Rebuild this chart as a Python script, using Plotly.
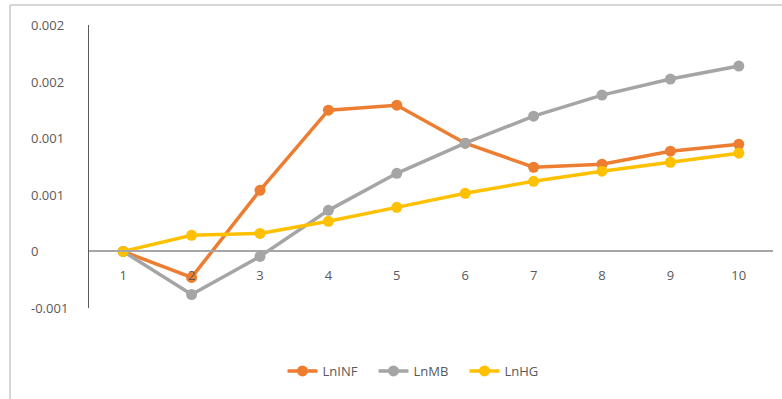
import plotly.graph_objects as go

categories = [1, 2, 3, 4, 5, 6, 7, 8, 9, 10]
ln_inf = [0, -0.000276, 0.000648, 0.001497, 0.00155, 0.001147, 0.000892, 0.000924, 0.001062, 0.001136]
ln_mb = [0, -0.000457, -0.000053, 0.000435, 0.000828, 0.001147, 0.001434, 0.001657, 0.001827, 0.001965]
ln_hg = [0, 0.00017, 0.000191, 0.000319, 0.000467, 0.000616, 0.000743, 0.00085, 0.000945, 0.001041]
y_tickvals = [-0.0006, 0, 0.0006, 0.0012, 0.0018, 0.0024]
y_ticktext = ["-0.001", "0", "0.001", "0.001", "0.002", "0.002"]

series = [("LnINF", ln_inf, "#ED7D31"), ("LnMB", ln_mb, "#A5A5A5"), ("LnHG", ln_hg, "#FFC000")]

W, H = 782, 399
L, R, T, B = 89, 9, 25, 91
PW, PH = W - L - R, H - T - B
ymin, ymax = -0.0006, 0.0024

fig = go.Figure()
for name, vals, color in series:
    fig.add_trace(go.Scatter(
        x=categories, y=vals, name=name, mode="lines+markers",
        line=dict(color=color, width=3.5),
        marker=dict(color=color, size=11),
    ))

font = dict(family="'Open Sans', Arial, sans-serif", size=13, color="#595959")

annotations = []
for v, t in zip(y_tickvals, y_ticktext):
    annotations.append(dict(
        xref="paper", yref="y", x=(29 - L) / PW, y=v, text=t,
        showarrow=False, xanchor="left", yanchor="middle", font=font,
    ))

zero_pos = (0 - ymin) / (ymax - ymin)

fig.update_layout(
    width=W, height=H,
    margin=dict(l=L, r=R, t=T, b=B, pad=0),
    paper_bgcolor="white", plot_bgcolor="white",
    font=font,
    showlegend=True,
    legend=dict(orientation="h", x=(0.5 * PW - 12) / PW,
                xanchor="center", y=(H - B - 371) / PH, yanchor="middle",
                font=font, itemwidth=30, entrywidth=46, entrywidthmode="pixels",
                tracegroupgap=0, bgcolor="rgba(0,0,0,0)"),
    xaxis=dict(
        range=[0.5, 10.5], tickvals=categories, ticktext=[str(c) for c in categories],
        anchor="free", position=zero_pos, showline=True, linecolor="#A6A6A6", linewidth=2,
        showgrid=False, zeroline=False, ticks="", ticklabelstandoff=12, tickfont=font,
    ),
    yaxis=dict(
        range=[ymin, ymax], tickvals=y_tickvals, showticklabels=False,
        showline=True, linecolor="#595959", linewidth=1, showgrid=False, zeroline=False, ticks="",
    ),
    annotations=annotations,
    shapes=[
        dict(type="line", xref="paper", yref="paper",
             x0=(10 - L) / PW, x1=(W - L) / PW,
             y0=(H - B - 5) / PH, y1=(H - B - 5) / PH,
             line=dict(color="#C8C8C8", width=1.5)),
        dict(type="line", xref="paper", yref="paper",
             x0=(10 - L) / PW, x1=(10 - L) / PW,
             y0=(H - B - 5) / PH, y1=(H - B - H) / PH,
             line=dict(color="#C8C8C8", width=1.5)),
    ],
)

fig.write_html("out.html")
